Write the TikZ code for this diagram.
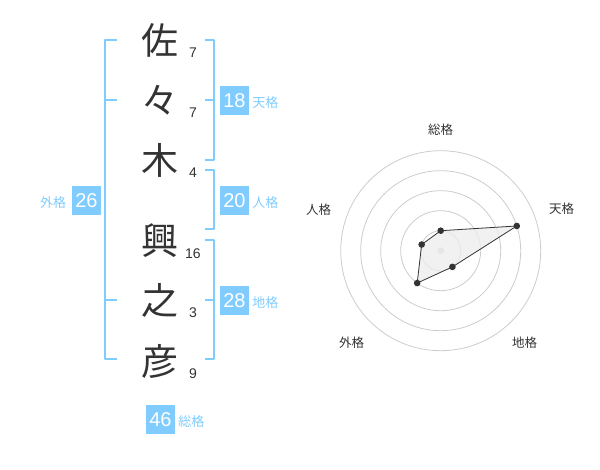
\documentclass[tikz,border=0pt]{standalone}
\usepackage{fontspec}
\setmainfont{Liberation Sans}
\newfontfamily\cjk{Noto Sans CJK JP}
\usetikzlibrary{positioning}
\definecolor{kakublue}{RGB}{128,204,255}
\definecolor{sumi}{RGB}{51,51,51}
\definecolor{wakusen}{RGB}{204,204,204}
\begin{document}
\begin{tikzpicture}[x=1pt,y=-1pt,line join=round,
        moji/.style={inner sep=0pt,text=sumi,font=\cjk\fontsize{37}{37}\selectfont},
        kakusu/.style={inner sep=0pt,text=sumi,font=\fontsize{14}{14}\selectfont},
        ban/.style={fill=kakublue,text=white,minimum size=29pt,inner sep=0pt,font=\fontsize{20}{20}\selectfont},
        kakuna/.style={inner sep=0pt,text=kakublue,font=\cjk\fontsize{13}{13}\selectfont},
        brk/.style={draw=kakublue,line width=2pt},
        radar/.style={inner sep=0pt,text=sumi,font=\cjk\fontsize{12.5}{12.5}\selectfont}]
    \useasboundingbox (0,0) rectangle (600,470);
    \def\cx{440.7} \def\cy{250.7}
    %===========================================
    \foreach \ch/\yy/\hk [count=\i] in {佐/40/7,々/100/7,木/160/4,興/241/16,之/300/3,彦/361/9}{
        \node[moji] (c\i) at (160,\yy) {\ch};
        \node[kakusu] (k\i) at (193,\yy+12.5) {\hk};
    }
    %===========================================
    \draw[brk] (117,40)--(105,40)--(105,359)--(117,359);
    \draw[brk] (105,100)--(117,100) (105,300)--(117,300);
    \draw[brk] (205,40)--(214,40)--(214,160)--(205,160) (205,100)--(214,100);
    \draw[brk] (205,170)--(214,170)--(214,229)--(205,229);
    \draw[brk] (205,240)--(214,240)--(214,359)--(205,359) (205,300)--(214,300);
    %===========================================
    \node[ban] (ten) at (234.5,100.5) {18};
    \node[ban] (jin) at (234.5,200.5) {20};
    \node[ban] (chi) at (234.5,300.5) {28};
    \node[ban] (gai) at (86.5,200.5) {26};
    \node[ban] (sou) at (160.5,419.5) {46};
    \node[kakuna,anchor=base west] (tenl) at ([xshift=3pt]ten.base east) {天格};
    \node[kakuna,anchor=base west] (jinl) at ([xshift=3pt]jin.base east) {人格};
    \node[kakuna,anchor=base west] (chil) at ([xshift=3pt]chi.base east) {地格};
    \node[kakuna,anchor=base east] (gail) at ([xshift=-5.5pt]gai.base west) {外格};
    \node[kakuna,anchor=base west] (soul) at ([xshift=3pt]sou.base east) {総格};
    %===========================================
    \begin{scope}[shift={(\cx,\cy)}]
        \foreach \r in {20,40,60,80,100} \draw[wakusen,line width=0.8pt] (0,0) circle (\r);
        \fill[wakusen] (0,0) circle (3.4);
        \coordinate (pS) at (-90:20);
        \coordinate (pT) at (-18:80);
        \coordinate (pC) at (54:20);
        \coordinate (pG) at (126:40);
        \coordinate (pJ) at (198:20);
        \draw[sumi,line width=0.8pt,fill=black!7,fill opacity=0.8] (pS)--(pT)--(pC)--(pG)--(pJ)--cycle;
        \foreach \p in {pS,pT,pC,pG,pJ} \fill[sumi] (\p) circle (3.3);
        \node[radar] (rS) at (0,-120.7) {総格};
        \node[radar] (rT) at (121,-42) {天格};
        \node[radar] (rC) at (84,92) {地格};
        \node[radar] (rG) at (-89,92) {外格};
        \node[radar] (rJ) at (-122,-41) {人格};
    \end{scope}
\end{tikzpicture}
\end{document}
